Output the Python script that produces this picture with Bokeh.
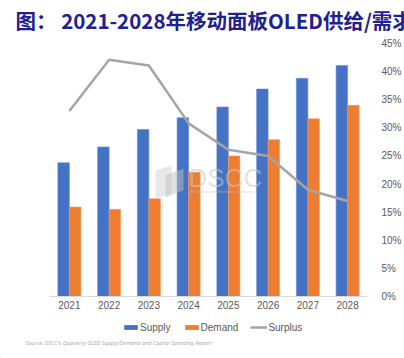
from bokeh.plotting import figure
from bokeh.layouts import column
from bokeh.models import (ColumnDataSource, FactorRange, Range1d, LinearAxis, FixedTicker,
                          NumeralTickFormatter, Legend, LegendItem, Label, PolyAnnotation)
from bokeh.transform import dodge
from bokeh.embed import file_html
from bokeh.resources import INLINE

years = ["2021", "2022", "2023", "2024", "2025", "2026", "2027", "2028"]
supply = [23.8, 26.6, 29.7, 31.8, 33.7, 36.9, 38.8, 41.1]
demand = [15.9, 15.5, 17.4, 22.1, 25.0, 27.9, 31.6, 34.0]
surplus_pct = [33.0, 42.1, 41.1, 30.8, 26.1, 25.0, 19.0, 17.0]
pct_ticks = [0, 5, 10, 15, 20, 25, 30, 35, 40, 45]
series_names = ["Supply", "Demand", "Surplus"]

title_text = "图： 2021-2028年移动面板OLED供给/需求"
source_text = "Source: DSCC's Quarterly OLED Supply/Demand and Capital Spending Report"
footer_text = "DSCC、UTI"

BLUE, ORANGE, GREY = "#4472C4", "#ED7D31", "#A5A5A5"


def strip(h):
    s = figure(width=404, height=h, x_range=Range1d(0, 404), y_range=Range1d(0, h),
               x_axis_location=None, y_axis_location=None, output_backend="svg",
               toolbar_location=None, min_border=0)
    s.frame_align = False
    s.outline_line_color = None
    s.xgrid.grid_line_color = None
    s.ygrid.grid_line_color = None
    s.background_fill_color = "white"
    s.border_fill_color = "white"
    return s


# header strip with title
hdr = strip(37)
hdr.add_layout(Label(x=15, y=18, text=title_text, text_font="Noto Sans CJK SC",
                     text_font_style="bold", text_font_size="20.5px", text_color="#20208f",
                     text_baseline="middle"))

src = ColumnDataSource(dict(year=years, supply=supply, demand=demand,
                            surplus=[v / 100 for v in surplus_pct]))

p = figure(width=404, height=281, x_range=FactorRange(*years), y_range=Range1d(0, 45),
           y_axis_location=None, output_backend="svg", toolbar_location=None,
           min_border_left=49, min_border_right=37, min_border_top=6, min_border_bottom=22)
p.frame_align = False
p.extra_y_ranges = {"pct": Range1d(0, 0.45)}
p.outline_line_color = None
p.xgrid.grid_line_color = None
p.ygrid.grid_line_color = None
p.background_fill_color = "white"
p.border_fill_color = "white"

wm1 = PolyAnnotation(xs=[106, 122, 122, 106], ys=[126, 131, 103, 98], xs_units="screen", ys_units="screen",
                     fill_color="#d0d0d0", fill_alpha=0.5, line_alpha=0, level="overlay")
wm2 = PolyAnnotation(xs=[116, 134, 134, 116], ys=[121, 128, 106, 99], xs_units="screen", ys_units="screen",
                     fill_color="#c0c0c0", fill_alpha=0.5, line_alpha=0, level="overlay")

bs = p.vbar(x=dodge("year", -0.145, range=p.x_range), top="supply", width=0.29, source=src,
            fill_color=BLUE, line_color="#6a8fd6", line_width=0.6)
bd = p.vbar(x=dodge("year", 0.145, range=p.x_range), top="demand", width=0.29, source=src,
            fill_color=ORANGE, line_color="#f29a5e", line_width=0.6)
ln = p.line(x="year", y="surplus", y_range_name="pct", source=src, line_color=GREY, line_width=2.5)

p.add_layout(wm1)
p.add_layout(wm2)
p.add_layout(Label(x=139, y=119, x_units="screen", y_units="screen", text="DSCC",
                   text_font="Liberation Sans", text_font_size="26px", text_color="#c8c8c8",
                   text_alpha=0.55, text_baseline="middle", level="overlay"))
p.add_layout(Label(x=141, y=105, x_units="screen", y_units="screen", text="A Counterpoint Research Company",
                   text_font="Liberation Sans", text_font_size="4px", text_color="#c8c8c8",
                   text_alpha=0.7, text_baseline="middle", level="overlay"))

ax = LinearAxis(y_range_name="pct", ticker=FixedTicker(ticks=[t / 100 for t in pct_ticks]),
                formatter=NumeralTickFormatter(format="0%"))
ax.axis_line_color = None
ax.major_tick_line_color = None
ax.minor_tick_line_color = None
ax.major_label_standoff = 8
ax.major_label_text_font = "Liberation Sans"
ax.major_label_text_font_size = "10px"
ax.major_label_text_color = "#595959"
p.add_layout(ax, "right")

xa = p.xaxis[0]
xa.axis_line_color = "#d9d9d9"
xa.axis_line_width = 1
xa.major_tick_line_color = None
xa.minor_tick_line_color = None
xa.major_label_standoff = -2
xa.major_label_text_font = "Liberation Sans"
xa.major_label_text_font_size = "10px"
xa.major_label_text_color = "#595959"

# footer strip: legend, source note, footer text
f = strip(40)
fs = f.vbar(x=[-50], top=[1], width=1, fill_color=BLUE, line_color=None)
fd = f.vbar(x=[-50], top=[1], width=1, fill_color=ORANGE, line_color=None)
fl = f.line(x=[-60, -50], y=[1, 1], line_color=GREY, line_width=2.5)
legend = Legend(items=[LegendItem(label=series_names[0], renderers=[fs]),
                       LegendItem(label=series_names[1], renderers=[fd]),
                       LegendItem(label=series_names[2], renderers=[fl])],
                location=(122, 25), orientation="horizontal", padding=0, margin=0, spacing=12,
                glyph_width=17, glyph_height=6, label_height=12, label_standoff=1,
                label_text_font="Liberation Sans", label_text_font_size="10px",
                label_text_color="#595959", border_line_alpha=0, background_fill_alpha=0)
f.add_layout(legend, "center")
f.add_layout(Label(x=25, y=16, text=source_text, text_font="Open Sans", text_font_style="italic",
                   text_font_size="5.5px", text_color="#a6a6a6", text_baseline="middle"))
f.add_layout(Label(x=0, y=5, text=footer_text, text_font="Noto Sans CJK SC",
                   text_font_size="13px", text_color="#2a3fc8", text_baseline="top"))

layout = column(hdr, p, f, spacing=0)
open("out.html", "w").write(file_html(layout, INLINE))
